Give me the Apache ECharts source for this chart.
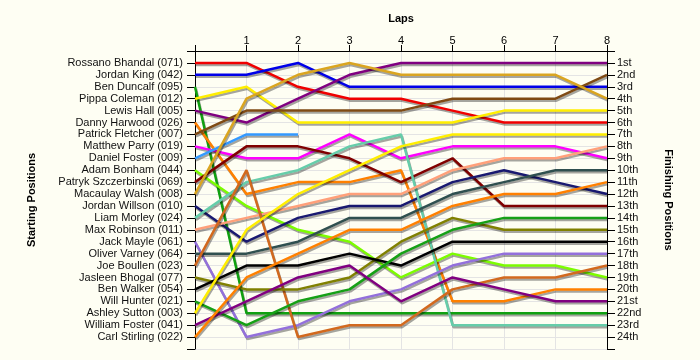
<!DOCTYPE html>
<html>
<head>
<meta charset="utf-8">
<script src="https://cdn.jsdelivr.net/npm/echarts@6/dist/echarts.min.js"></script>
<style>
html,body{margin:0;padding:0;background:#FEFEF3;}
#chart{width:700px;height:360px;}
</style>
</head>
<body>
<div id="chart"></div>
<script>
const laps = [0, 1, 2, 3, 4, 5, 6, 7, 8];
const lapTickLabels = ['', '1', '2', '3', '4', '5', '6', '7', '8'];
const drivers = [
  'Rossano Bhandal (071)', 'Jordan King (042)', 'Ben Duncalf (095)', 'Pippa Coleman (012)',
  'Lewis Hall (005)', 'Danny Harwood (026)', 'Patrick Fletcher (007)', 'Matthew Parry (019)',
  'Daniel Foster (009)', 'Adam Bonham (044)', 'Patryk Szczerbinski (069)', 'Macaulay Walsh (008)',
  'Jordan Willson (010)', 'Liam Morley (024)', 'Max Robinson (011)', 'Jack Mayle (061)',
  'Oliver Varney (064)', 'Joe Boullen (023)', 'Jasleen Bhogal (077)', 'Ben Walker (054)',
  'Will Hunter (021)', 'Ashley Sutton (003)', 'William Foster (041)', 'Carl Stirling (022)'
];
const finishLabels = ['1st','2nd','3rd','4th','5th','6th','7th','8th','9th','10th','11th','12th',
  '13th','14th','15th','16th','17th','18th','19th','20th','21st','22nd','23rd','24th'];

// positions per lap (lap 0 .. lap 8)
const pos071 = [1, 1, 3, 4, 4, 5, 6, 6, 6];
const pos042 = [2, 2, 1, 3, 3, 3, 3, 3, 3];
const pos095 = [3, 22, 22, 22, 22, 22, 22, 22, 22];
const pos012 = [4, 3, 6, 6, 6, 6, 5, 5, 5];
const pos005 = [5, 6, 4, 2, 1, 1, 1, 1, 1];
const pos026 = [6, 12, 11, 11, 10, 21, 21, 20, 20];
const pos007 = [7, 5, 5, 5, 5, 4, 4, 4, 2];
const pos019 = [8, 9, 9, 7, 9, 8, 8, 8, 9];
const pos009 = [9, 7, 7, null, null, null, null, null, null];
const pos044 = [10, 13, 15, 16, 19, 17, 18, 18, 19];
const pos069 = [11, 8, 8, 9, 11, 9, 13, 13, 13];
const pos008 = [12, 4, 2, 1, 2, 2, 2, 2, 4];
const pos010 = [13, 16, 14, 13, 13, 11, 10, 11, 12];
const pos024 = [14, 11, 10, 8, 7, 23, 23, 23, 23];
const pos011 = [15, 14, 13, 12, 12, 10, 9, 9, 8];
const pos061 = [16, 24, 23, 21, 20, 18, 17, 17, 17];
const pos064 = [17, 17, 16, 14, 14, 12, 11, 10, 10];
const pos023 = [18, 10, 24, 23, 23, 20, 19, 19, 18];
const pos077 = [19, 20, 20, 19, 16, 14, 15, 15, 15];
const pos054 = [20, 18, 18, 17, 18, 16, 16, 16, 16];
const pos021 = [21, 23, 21, 20, 17, 15, 14, 14, 14];
const pos003 = [22, 15, 12, 10, 8, 7, 7, 7, 7];
const pos041 = [23, 21, 19, 18, 21, 19, 20, 21, 21];
const pos022 = [24, 19, 17, 15, 15, 13, 12, 12, 11];

const allPositions = [pos071, pos042, pos095, pos012, pos005, pos026, pos007, pos019,
  pos009, pos044, pos069, pos008, pos010, pos024, pos011, pos061,
  pos064, pos023, pos077, pos054, pos021, pos003, pos041, pos022];

const lineColors = ['#F00000', '#0000E8', '#10A010', '#FFEE00', '#800080', '#FF8000', '#7F4A14', '#FF00FF',
  '#3399FF', '#7CFC00', '#800000', '#DAA520', '#191970', '#66CDAA', '#FFA07A', '#9370DB',
  '#2F4F4F', '#D2691E', '#808000', '#000000', '#16A016', '#FFEE00', '#800080', '#FF8000'];

const FONT = 'Liberation Sans';

const series = drivers.map((name, i) => ({
  name: name,
  type: 'line',
  symbol: 'none',
  connectNulls: false,
  yAxisIndex: 0,
  animation: false,
  data: laps.map((l, k) => [l, allPositions[i][k]]).filter(d => d[1] !== null),
  lineStyle: {
    color: lineColors[i],
    width: 2.5,
    shadowColor: 'rgba(0,0,0,0.35)',
    shadowOffsetX: 1,
    shadowOffsetY: 2,
    shadowBlur: 0
  }
}));

const chart = echarts.init(document.getElementById('chart'), null, {renderer: 'canvas'});
chart.setOption({
  backgroundColor: '#FEFEF3',
  animation: false,
  grid: {left: 195, right: 93, top: 51, bottom: 11},
  xAxis: {
    type: 'value', position: 'top', min: 0, max: 8, interval: 1,
    name: 'Laps', nameLocation: 'middle', nameGap: 27,
    nameTextStyle: {fontFamily: FONT, fontWeight: 'bold', fontSize: 11, color: '#000'},
    axisLine: {show: true, lineStyle: {color: '#000', width: 1}},
    axisTick: {show: true, length: 6, lineStyle: {color: '#000'}},
    axisLabel: {fontFamily: FONT, fontSize: 11, color: '#000', margin: 5,
      formatter: v => lapTickLabels[v] || ''},
    splitLine: {show: true, lineStyle: {color: '#E4E4E4', width: 1}}
  },
  yAxis: [{
    type: 'value', inverse: true, min: 0, max: 25, interval: 1, position: 'left',
    name: 'Starting Positions', nameLocation: 'middle', nameGap: 158, nameRotate: 90,
    nameTextStyle: {fontFamily: FONT, fontWeight: 'bold', fontSize: 11, color: '#000'},
    axisLine: {show: true, lineStyle: {color: '#000', width: 1}},
    axisTick: {show: true, length: 8, lineStyle: {color: '#000'}},
    axisLabel: {fontFamily: FONT, fontSize: 11, color: '#111', margin: 12,
      formatter: v => drivers[v - 1] || ''},
    splitLine: {show: true, lineStyle: {color: '#E4E4E4', width: 1}}
  }, {
    type: 'value', inverse: true, min: 0, max: 25, interval: 1, position: 'right',
    name: 'Finishing Positions', nameLocation: 'middle', nameGap: 56, nameRotate: -90,
    nameTextStyle: {fontFamily: FONT, fontWeight: 'bold', fontSize: 11, color: '#000'},
    axisLine: {show: true, lineStyle: {color: '#000', width: 1}},
    axisTick: {show: true, length: 8, lineStyle: {color: '#000'}},
    axisLabel: {fontFamily: FONT, fontSize: 11, color: '#111', margin: 10,
      formatter: v => finishLabels[v - 1] || ''},
    splitLine: {show: false}
  }],
  series: series
});
</script>
</body>
</html>
